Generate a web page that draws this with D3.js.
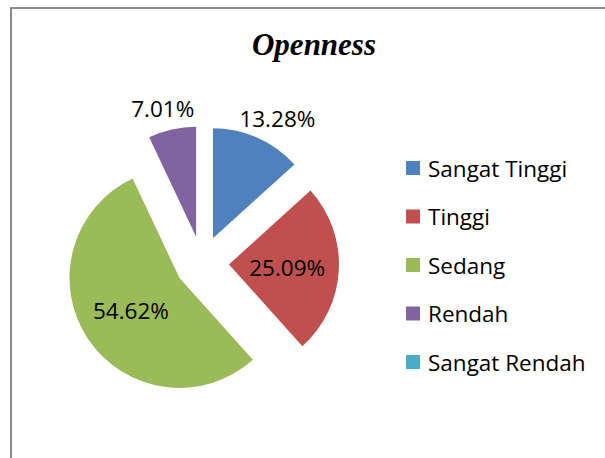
<!DOCTYPE html>
<html>
<head>
<meta charset="utf-8">
<script src="https://cdn.jsdelivr.net/npm/d3@7"></script>
<style>
  html, body { margin: 0; padding: 0; background: #fff; }
  svg { display: block; }
</style>
</head>
<body>
<div class="chart-container"></div>
<script>
// data
const categories = ['Sangat Tinggi', 'Tinggi', 'Sedang', 'Rendah', 'Sangat Rendah'];
const values = [13.28, 25.09, 54.62, 7.01, 0];
const labels = ['13.28%', '25.09%', '54.62%', '7.01%', ''];
const chartTitle = 'Openness';

const width = 605;
const height = 458;

const color = d3.scaleOrdinal()
  .domain(categories)
  .range(['#4F81BD', '#C0504D', '#9BBB59', '#8064A2', '#4BACC6']);

const svg = d3.select('.chart-container')
  .append('svg')
  .attr('width', width)
  .attr('height', height)
  .attr('viewBox', [0, 0, width, height]);

// chart frame (right and bottom edges fall outside the picture)
svg.append('rect')
  .attr('x', 11)
  .attr('y', 8)
  .attr('width', 700)
  .attr('height', 600)
  .attr('fill', '#fff')
  .attr('stroke', '#8c8c8c')
  .attr('stroke-width', 2);

svg.append('text')
  .attr('x', 314)
  .attr('y', 55)
  .attr('text-anchor', 'middle')
  .attr('font-family', '"Liberation Serif", "Times New Roman", serif')
  .attr('font-weight', 'bold')
  .attr('font-style', 'italic')
  .attr('font-size', '31px')
  .text(chartTitle);

// pie
const cx = 202, cy = 263;
const r = 110;
const explode = 27;
const total = d3.sum(values);

const pieData = d3.pie()
  .sort(null)
  .value(d => d.value)
  (categories.map((c, i) => ({ name: c, value: values[i], label: labels[i] })));

const arc = d3.arc().innerRadius(0).outerRadius(r);
const midAngle = d => (d.startAngle + d.endAngle) / 2;

const g = svg.append('g').attr('transform', `translate(${cx},${cy})`);

const slice = g.selectAll('g.slice')
  .data(pieData.filter(d => d.value > 0))
  .join('g')
    .attr('class', 'slice')
    .attr('transform', d => {
      const a = midAngle(d);
      return `translate(${explode * Math.sin(a)},${-explode * Math.cos(a)})`;
    });

slice.append('path')
  .attr('d', arc)
  .attr('fill', d => color(d.data.name));

// labels: big slices inside, small ones outside (like Excel best fit)
slice.append('text')
  .attr('font-family', '"Open Sans", sans-serif')
  .attr('font-size', '22.5px')
  .attr('fill', '#000')
  .attr('text-anchor', 'middle')
  .attr('dominant-baseline', 'central')
  .text(d => d.data.label)
  .attr('transform', function(d) {
    const a = midAngle(d);
    if (d.value / total > 0.2) {
      const k = r * 0.53;
      return `translate(${k * Math.sin(a)},${-k * Math.cos(a)})`;
    }
    // outside: push the label box beyond the anchor point
    const k = r * 1.1;
    const w = this.getComputedTextLength();
    const h = 20;
    const x = k * Math.sin(a) + (w / 2) * Math.sin(a);
    const y = -k * Math.cos(a) - (h / 2) * Math.cos(a);
    return `translate(${x},${y})`;
  });

// legend
const ly = d3.scalePoint()
  .domain(categories)
  .range([168, 362]);

const legend = svg.append('g');

legend.selectAll('rect')
  .data(categories)
  .join('rect')
    .attr('x', 406)
    .attr('y', d => ly(d) - 7)
    .attr('width', 14)
    .attr('height', 14)
    .attr('fill', d => color(d));

legend.selectAll('text')
  .data(categories)
  .join('text')
    .attr('x', 428)
    .attr('y', d => ly(d))
    .attr('dominant-baseline', 'central')
    .attr('font-family', '"Open Sans", sans-serif')
    .attr('font-size', '22.5px')
    .attr('fill', '#000')
    .text(d => d);
</script>
</body>
</html>
